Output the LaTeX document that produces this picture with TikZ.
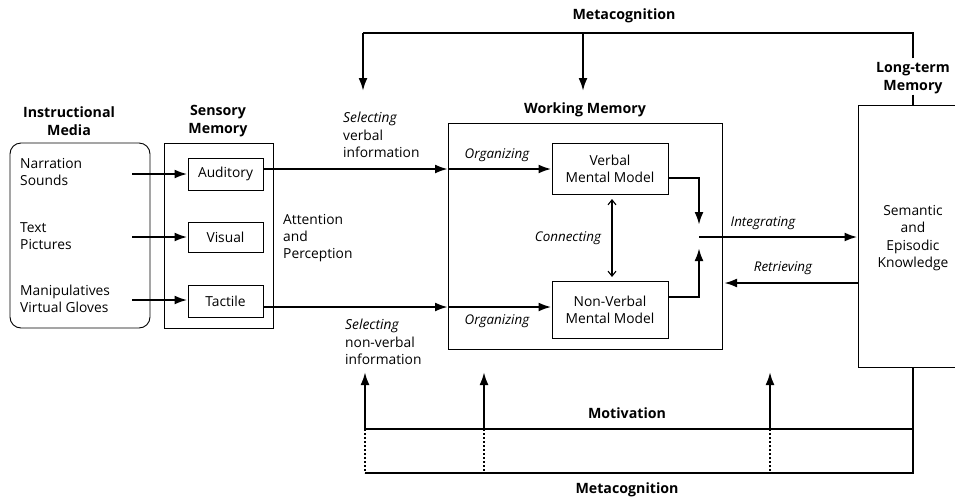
\documentclass[tikz,border=0pt]{standalone}
\usepackage{fontspec}
\setmainfont{Open Sans}
\usetikzlibrary{arrows.meta}

\tikzset{
  txt/.style={font=\fontsize{13.8}{17.3}\selectfont, align=left, inner sep=0pt},
  ctxt/.style={font=\fontsize{13.8}{17.3}\selectfont, align=center, inner sep=0pt},
  ttl/.style={font=\bfseries\fontsize{14.2}{17.5}\selectfont, align=center, inner sep=0pt},
  itx/.style={font=\itshape\fontsize{13.4}{17}\selectfont, inner sep=0pt},
  frame/.style={draw, line width=0.9pt, inner sep=0pt},
  smallbox/.style={draw, line width=1pt, inner sep=0pt, font=\fontsize{13.8}{17.3}\selectfont, align=center},
  arr/.style={line width=2.4pt, -{Latex[length=13pt,width=9pt]}},
  metaline/.style={line width=2.2pt},
  metaarrow/.style={line width=2.2pt, -{Latex[length=13pt,width=9pt]}},
  dotline/.style={line width=2.2pt, dash pattern=on 2pt off 2pt},
  twoway/.style={line width=1.1pt, {Straight Barb[length=5pt,width=8pt]}-{Straight Barb[length=5pt,width=8pt]}}
}

\begin{document}
\begin{tikzpicture}[x=1pt,y=-1pt]
\useasboundingbox (0,0) rectangle (955,499);

% --- section titles
\node[ttl] (metatop) at (624,16) {Metacognition};
\node[ttl] (imt) at (69,121) {Instructional\\Media};
\node[ttl] (smt) at (218,121) {Sensory\\Memory};
\node[ttl] (wmt) at (585,110) {Working Memory};
\node[ttl] (ltmt) at (913,78) {Long-term\\Memory};

% --- instructional media and sensory memory
\node[frame, rounded corners=11pt, minimum width=140pt, minimum height=185pt] (media) at (80,235.5) {};
\node[frame, minimum width=109pt, minimum height=185pt] (sensory) at (218.5,235.5) {};
\node[smallbox, minimum width=75pt, minimum height=32pt] (aud) at (225.5,174) {Auditory};
\node[smallbox, minimum width=75pt, minimum height=30pt] (vis) at (225.5,237) {Visual};
\node[smallbox, minimum width=75pt, minimum height=32pt] (tac) at (225.5,301) {Tactile};

\node[txt, anchor=west] (m1) at (20,172) {Narration\\Sounds};
\node[txt, anchor=west] (m2) at (20,236) {Text\\Pictures};
\node[txt, anchor=west] (m3) at (20,299) {Manipulatives\\Virtual Gloves};

\coordinate (s1) at (132,174);
\coordinate (s2) at (132,237);
\coordinate (s3) at (132,300);
\draw[arr] (s1) -- (aud.west |- s1);
\draw[arr] (s2) -- (vis.west |- s2);
\draw[arr] (s3) -- (tac.west |- s3);

% --- selection and attention labels
\node[txt, anchor=west] (selv) at (343,135) {\textit{Selecting}\\verbal\\information};
\node[txt, anchor=west] (selnv) at (345,342) {\textit{Selecting}\\non-verbal\\information};
\node[txt, anchor=west] (attn) at (283,238) {Attention\\and\\Perception};

% --- working memory
\node[frame, minimum width=274pt, minimum height=226pt] (wm) at (585,236) {};
\node[smallbox, minimum width=116pt, minimum height=51pt] (verbal) at (610,168.5) {Verbal\\Mental Model};
\node[smallbox, minimum width=116pt, minimum height=57pt] (nonverbal) at (610,309.5) {Non-Verbal\\Mental Model};

\coordinate (vin) at (448,169);
\coordinate (nin) at (448,307);
\draw[arr] (aud.east |- vin) -- (vin);
\draw[arr] (vin) -- (verbal.west |- vin);
\draw[arr] (tac.east |- nin) -- (nin);
\draw[arr] (nin) -- (nonverbal.west |- nin);

\node[itx] (org1) at (497,155) {Organizing};
\node[itx] (org2) at (497,321) {Organizing};
\node[itx] (conn) at (568,238) {Connecting};

\draw[twoway, shorten <=5pt, shorten >=4pt] (612,194) -- (612,281);

\coordinate (mg) at (699,237);
\draw[arr] (verbal.east |- 0,178) -| (699,225);
\draw[arr] (nonverbal.east |- 0,297) -| (699,248);

% --- long-term memory
\node[frame, minimum width=110pt, minimum height=262pt] (ltm) at (913,236) {};
\node[ctxt] (ltmtext) at (913,238) {Semantic\\and\\Episodic\\Knowledge};

\draw[arr] (mg) -- (ltm.west |- mg);
\draw[arr] (ltm.west |- 0,283) -- (724,283);
\node[itx] (integ) at (763,223) {Integrating};
\node[itx] (retr) at (783,268) {Retrieving};

% --- metacognition (top)
\coordinate (tl) at (363,33);
\coordinate (tm) at (583,33);
\coordinate (selTop) at (363,91);
\coordinate (wmTop) at (583,91);
\draw[metaline] (ltmt.north) ++(0,-4) |- (tl);
\draw[metaarrow] (tl) -- (selTop);
\draw[metaarrow] (tm) -- (wmTop);
\draw[metaline] (ltmt.south) ++(0,1) -- (ltm.north);

% --- motivation and metacognition (bottom)
\coordinate (b1) at (365,429);
\coordinate (b2) at (484,429);
\coordinate (b3) at (770,429);
\coordinate (c1) at (365,473);
\coordinate (c2) at (484,473);
\coordinate (c3) at (770,473);
\coordinate (br) at (914,473);
\draw[metaline] (ltm.south) -- (ltm.south |- br) -- (c1);
\draw[metaline] (ltm.south |- b1) -- (b1);
\draw[metaarrow] (b1) -- (365,372);
\draw[metaarrow] (b2) -- (484,372);
\draw[metaarrow] (b3) -- (770,372);
\draw[dotline] (b1) -- (c1);
\draw[dotline] (b2) -- (c2);
\draw[dotline] (b3) -- (c3);

\node[ttl] (motiv) at (627,413) {Motivation};
\node[ttl] (metabot) at (627,490) {Metacognition};
\end{tikzpicture}
\end{document}
